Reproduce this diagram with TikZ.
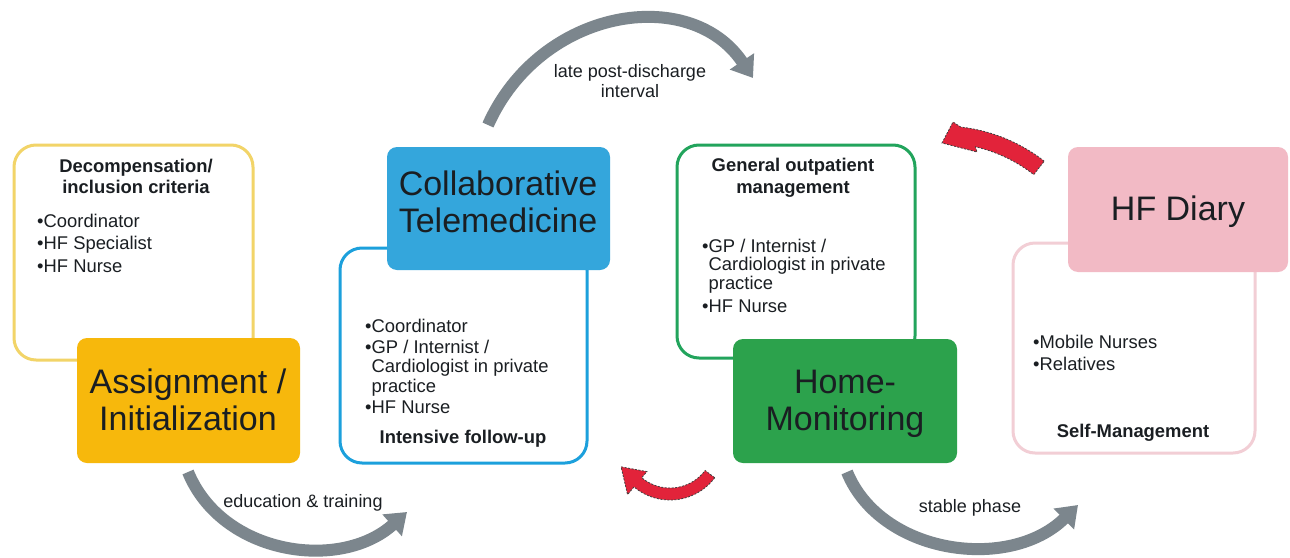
\documentclass[tikz,border=0pt]{standalone}
\usepackage{fontspec}
\setmainfont{Liberation Sans}
\usetikzlibrary{arrows.meta}

\definecolor{yellowfill}{RGB}{247,184,12}
\definecolor{yellowline}{RGB}{242,212,104}
\definecolor{bluefill}{RGB}{52,166,220}
\definecolor{blueline}{RGB}{28,160,220}
\definecolor{greenfill}{RGB}{44,162,76}
\definecolor{greenline}{RGB}{34,164,92}
\definecolor{pinkfill}{RGB}{242,186,197}
\definecolor{pinkline}{RGB}{242,206,213}
\definecolor{arrowgrey}{RGB}{124,134,141}
\definecolor{turnred}{RGB}{226,35,58}
\definecolor{textdark}{RGB}{26,30,34}

% one-column stacks whose reference point is the first baseline
\newcommand{\ctab}[1]{\begin{tabular}[t]{@{}c@{}}#1\end{tabular}}
\newcommand{\ltab}[1]{\begin{tabular}[t]{@{}l@{}}#1\end{tabular}}
\newcommand{\blt}{\textbullet}
\newcommand{\nob}{\hphantom{\textbullet}}

\tikzset{
  outlinebox/.style={draw, line width=3pt, rounded corners=22pt, inner sep=0pt},
  fillbox/.style={rounded corners=10pt, inner sep=0pt},
  bigtext/.style={font=\fontsize{34}{37}\selectfont, inner sep=0pt, anchor=base, text=textdark},
  listtext/.style={inner sep=0pt, anchor=base west, text=textdark},
  titletext/.style={inner sep=0pt, anchor=base, text=textdark},
  phaselabel/.style={font=\fontsize{18}{20}\selectfont, inner sep=0pt, anchor=base, text=textdark},
  phasearrow/.style={draw=arrowgrey, line width=12pt, -{Triangle[width=28pt,length=20pt]}},
  turnarrow/.style={fill=turnred, draw=black!75, line width=0.8pt, dash pattern=on 2pt off 1.5pt}
}

\begin{document}
\begin{tikzpicture}[x=1pt,y=-1pt]
\useasboundingbox[fill=white] (0,0) rectangle (1290,557);

% ---- outlined team boxes (behind the coloured phase boxes)
\node[outlinebox, draw=yellowline, minimum width=239pt, minimum height=215pt] (teamA) at (133.5,252.5) {};
\node[outlinebox, draw=blueline, minimum width=247pt, minimum height=215pt] (teamB) at (463.5,355.5) {};
\node[outlinebox, draw=greenline, minimum width=238pt, minimum height=213pt] (teamC) at (796,251.5) {};
\node[outlinebox, draw=pinkline, minimum width=242pt, minimum height=210pt] (teamD) at (1134,348) {};

% ---- coloured phase boxes
\node[fillbox, fill=yellowfill, minimum width=223pt, minimum height=125pt] (assign) at (188.5,400.5) {};
\node[fillbox, fill=bluefill, minimum width=223pt, minimum height=123pt] (collab) at (498.5,208.5) {};
\node[fillbox, fill=greenfill, minimum width=224pt, minimum height=124pt] (home) at (845,401) {};
\node[fillbox, fill=pinkfill, minimum width=220pt, minimum height=125pt] (diary) at (1178,209.5) {};

% ---- phase names
\node[bigtext] (assignT) at (188,393) {\ctab{Assignment /\\Initialization}};
\node[bigtext] (collabT) at (498,195) {\ctab{Collaborative\\Telemedicine}};
\node[bigtext] (homeT) at (845,393) {\ctab{Home-\\Monitoring}};
\node[bigtext] (diaryT) at (1178,220) {HF Diary};

% ---- team box contents
\node[titletext, font=\fontsize{18.4}{21}\selectfont\bfseries] (teamAT) at (136,172)
  {\ctab{Decompensation/\\inclusion criteria}};
\node[listtext, font=\fontsize{18.4}{22.5}\selectfont] (teamAL) at (37,227)
  {\ltab{\blt Coordinator\\\blt HF Specialist\\\blt HF Nurse}};

\node[listtext, font=\fontsize{18.4}{19.5}\selectfont] (teamBL) at (365,332)
  {\ltab{\blt Coordinator\\[1.5pt]\blt GP / Internist /\\\nob Cardiologist in private\\\nob practice\\[2pt]\blt HF Nurse}};
\node[titletext, font=\fontsize{18.4}{21}\selectfont\bfseries] (teamBT) at (463,443) {Intensive follow-up};

\node[titletext, font=\fontsize{18.4}{22}\selectfont\bfseries] (teamCT) at (793,171)
  {\ctab{General outpatient\\management}};
\node[listtext, font=\fontsize{18.4}{18}\selectfont] (teamCL) at (702,252)
  {\ltab{\blt GP / Internist /\\\nob Cardiologist in private\\\nob practice\\[5pt]\blt HF Nurse}};

\node[listtext, font=\fontsize{18.4}{22}\selectfont] (teamDL) at (1033,348)
  {\ltab{\blt Mobile Nurses\\\blt Relatives}};
\node[titletext, font=\fontsize{18.4}{21}\selectfont\bfseries] (teamDT) at (1133,437) {Self-Management};

% ---- grey phase transitions
\coordinate (lateS) at (488,125);
\coordinate (lateE) at (753,78);
\draw[phasearrow] (lateS) .. controls (540,8) and (690,-16) .. (lateE);
\node[phaselabel] (lateL) at (630,77) {\ctab{late post-discharge\\interval}};

\coordinate (eduS) at (188,472);
\coordinate (eduE) at (407,512);
\draw[phasearrow] (eduS) .. controls (222,555) and (340,572) .. (eduE);
\node[phaselabel] (eduL) at (303,507) {education \& training};

\coordinate (stabS) at (847,472);
\coordinate (stabE) at (1078,505);
\draw[phasearrow] (stabS) .. controls (881,555) and (1010,572) .. (stabE);
\node[phaselabel] (stabL) at (970,512) {stable phase};

% ---- red return arrows (curved block arrows)
\path[turnarrow]
  plot[domain=37:130, samples=40, variable=\t] ({670+56*cos(\t)},{444+56*sin(\t)})
  -- ({670+66*cos(130)},{444+66*sin(130)})
  -- ({670+54*cos(155)},{444+54*sin(155)})
  -- ({670+36*cos(130)},{444+36*sin(130)})
  -- plot[domain=130:37, samples=40, variable=\t] ({670+44*cos(\t)},{444+44*sin(\t)})
  -- cycle;

\path[turnarrow]
  plot[domain=-52:-83.5, samples=40, variable=\t] ({942+166*cos(\t)},{292+166*sin(\t)})
  -- (953,122) -- (942,143) -- (977,152)
  -- plot[domain=-77:-52, samples=40, variable=\t] ({942+149*cos(\t)},{292+149*sin(\t)})
  -- cycle;
\end{tikzpicture}
\end{document}
